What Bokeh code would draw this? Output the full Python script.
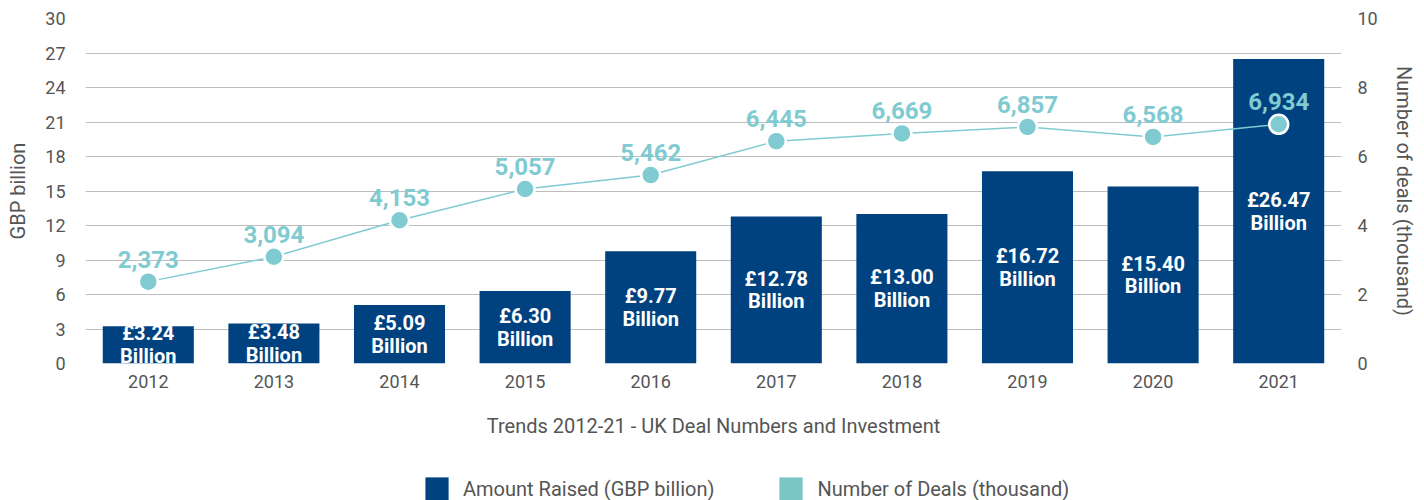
from bokeh.plotting import figure
from bokeh.layouts import column
from bokeh.models import (ColumnDataSource, Range1d, LinearAxis, FixedTicker, Legend, LegendItem,
                          FactorRange)
from bokeh.core.properties import value
from bokeh.embed import file_html
from bokeh.resources import INLINE

years = ["2012", "2013", "2014", "2015", "2016", "2017", "2018", "2019", "2020", "2021"]
amount_raised = [3.24, 3.48, 5.09, 6.30, 9.77, 12.78, 13.00, 16.72, 15.40, 26.47]
deal_numbers = [2373, 3094, 4153, 5057, 5462, 6445, 6669, 6857, 6568, 6934]
left_ticks = [0, 3, 6, 9, 12, 15, 18, 21, 24, 27, 30]
right_ticks = [0, 2, 4, 6, 8, 10]

BAR = "#00427f"
TEAL = "#7fcbd1"
TEAL_SQ = "#7ac6c6"
TXT = "#555555"
FONT = "Roboto"

src = ColumnDataSource(dict(
    x=years,
    amt=amount_raised,
    half=[v / 2 for v in amount_raised],
    amt_lbl=[f"£{v:.2f}\nBillion" for v in amount_raised],
    deals=[d / 1000 for d in deal_numbers],
    deal_lbl=[f"{d:,}" for d in deal_numbers],
))

p = figure(width=1420, height=463, x_range=FactorRange(*years), y_range=Range1d(0, 30),
           output_backend="svg", toolbar_location=None,
           min_border_left=85, min_border_right=79, min_border_top=18, min_border_bottom=100)
p.outline_line_color = None
p.extra_y_ranges = {"deals": Range1d(0, 10)}

bars = p.vbar(x="x", top="amt", width=0.725, source=src, fill_color=BAR, line_color=None)
p.text(x="x", y="half", text="amt_lbl", source=src, text_color="white",
       text_font=value(FONT), text_font_style="bold", text_font_size="20px",
       text_align="center", text_baseline="middle", text_line_height=0.95)

deal_line = p.line(x="x", y="deals", source=src, y_range_name="deals", line_color=TEAL, line_width=1.5)
p.scatter(x="x", y="deals", source=src, y_range_name="deals", size=19,
          fill_color=TEAL, line_color="white", line_width=2.5)
p.text(x="x", y="deals", text="deal_lbl", source=src, y_range_name="deals", text_color=TEAL,
       text_font=value(FONT), text_font_style="bold", text_font_size="24px",
       text_align="center", text_baseline="bottom", y_offset=-14)

# axes
p.yaxis.ticker = FixedTicker(ticks=left_ticks)
p.yaxis.axis_label = "GBP billion"
p.xaxis.axis_label = "Trends 2012-21 - UK Deal Numbers and Investment"

right = LinearAxis(y_range_name="deals", ticker=FixedTicker(ticks=right_ticks),
                   axis_label="Number of deals (thousand)")
p.add_layout(right, "right")

for ax in [p.xaxis[0], p.yaxis[0], right]:
    ax.axis_line_color = None
    ax.major_tick_line_color = None
    ax.minor_tick_line_color = None
    ax.major_label_text_font = FONT
    ax.major_label_text_font_size = "18px"
    ax.major_label_text_color = TXT
    ax.axis_label_text_font = FONT
    ax.axis_label_text_font_size = "20px"
    ax.axis_label_text_font_style = "normal"
    ax.axis_label_text_color = TXT

p.yaxis[0].major_label_standoff = 14
right.major_label_standoff = 10
right.axis_label_standoff = 11
p.yaxis[0].axis_label_standoff = 12
p.xaxis[0].major_label_standoff = 5
p.xaxis[0].axis_label_standoff = 23

p.xgrid.grid_line_color = None
p.ygrid.grid_line_color = "#bdbdbd"
p.ygrid.grid_line_width = 1.2

# legend strip below the chart (its key renderers are hidden; only the legend shows)
lg = figure(width=1420, height=37, output_backend="svg", toolbar_location=None,
            x_range=FactorRange(*years), y_range=Range1d(0, 1),
            x_axis_type=None, y_axis_type=None,
            min_border=0, min_border_left=0, min_border_right=0, min_border_top=0, min_border_bottom=0)
lg.outline_line_color = None
lg.xgrid.grid_line_color = None
lg.ygrid.grid_line_color = None
amt_key = lg.vbar(x="x", top="amt", width=0.5, source=src, fill_color=BAR, line_color=None, visible=False)
deal_key = lg.vbar(x="x", top="deals", width=0.5, source=src, fill_color=TEAL_SQ, line_color=None, visible=False)
legend = Legend(items=[LegendItem(label="Amount Raised (GBP billion)", renderers=[amt_key]),
                       LegendItem(label="Number of Deals (thousand)", renderers=[deal_key])],
                orientation="horizontal", location=(337, -3),
                glyph_width=29, glyph_height=29, label_standoff=12, spacing=62,
                padding=0, margin=0, border_line_color=None, background_fill_alpha=0,
                inactive_fill_alpha=0,
                label_text_font=FONT, label_text_font_size="20px", label_text_color=TXT)
lg.add_layout(legend, "center")

layout = column(p, lg, spacing=0)
open("out.html", "w").write(file_html(layout, INLINE))
